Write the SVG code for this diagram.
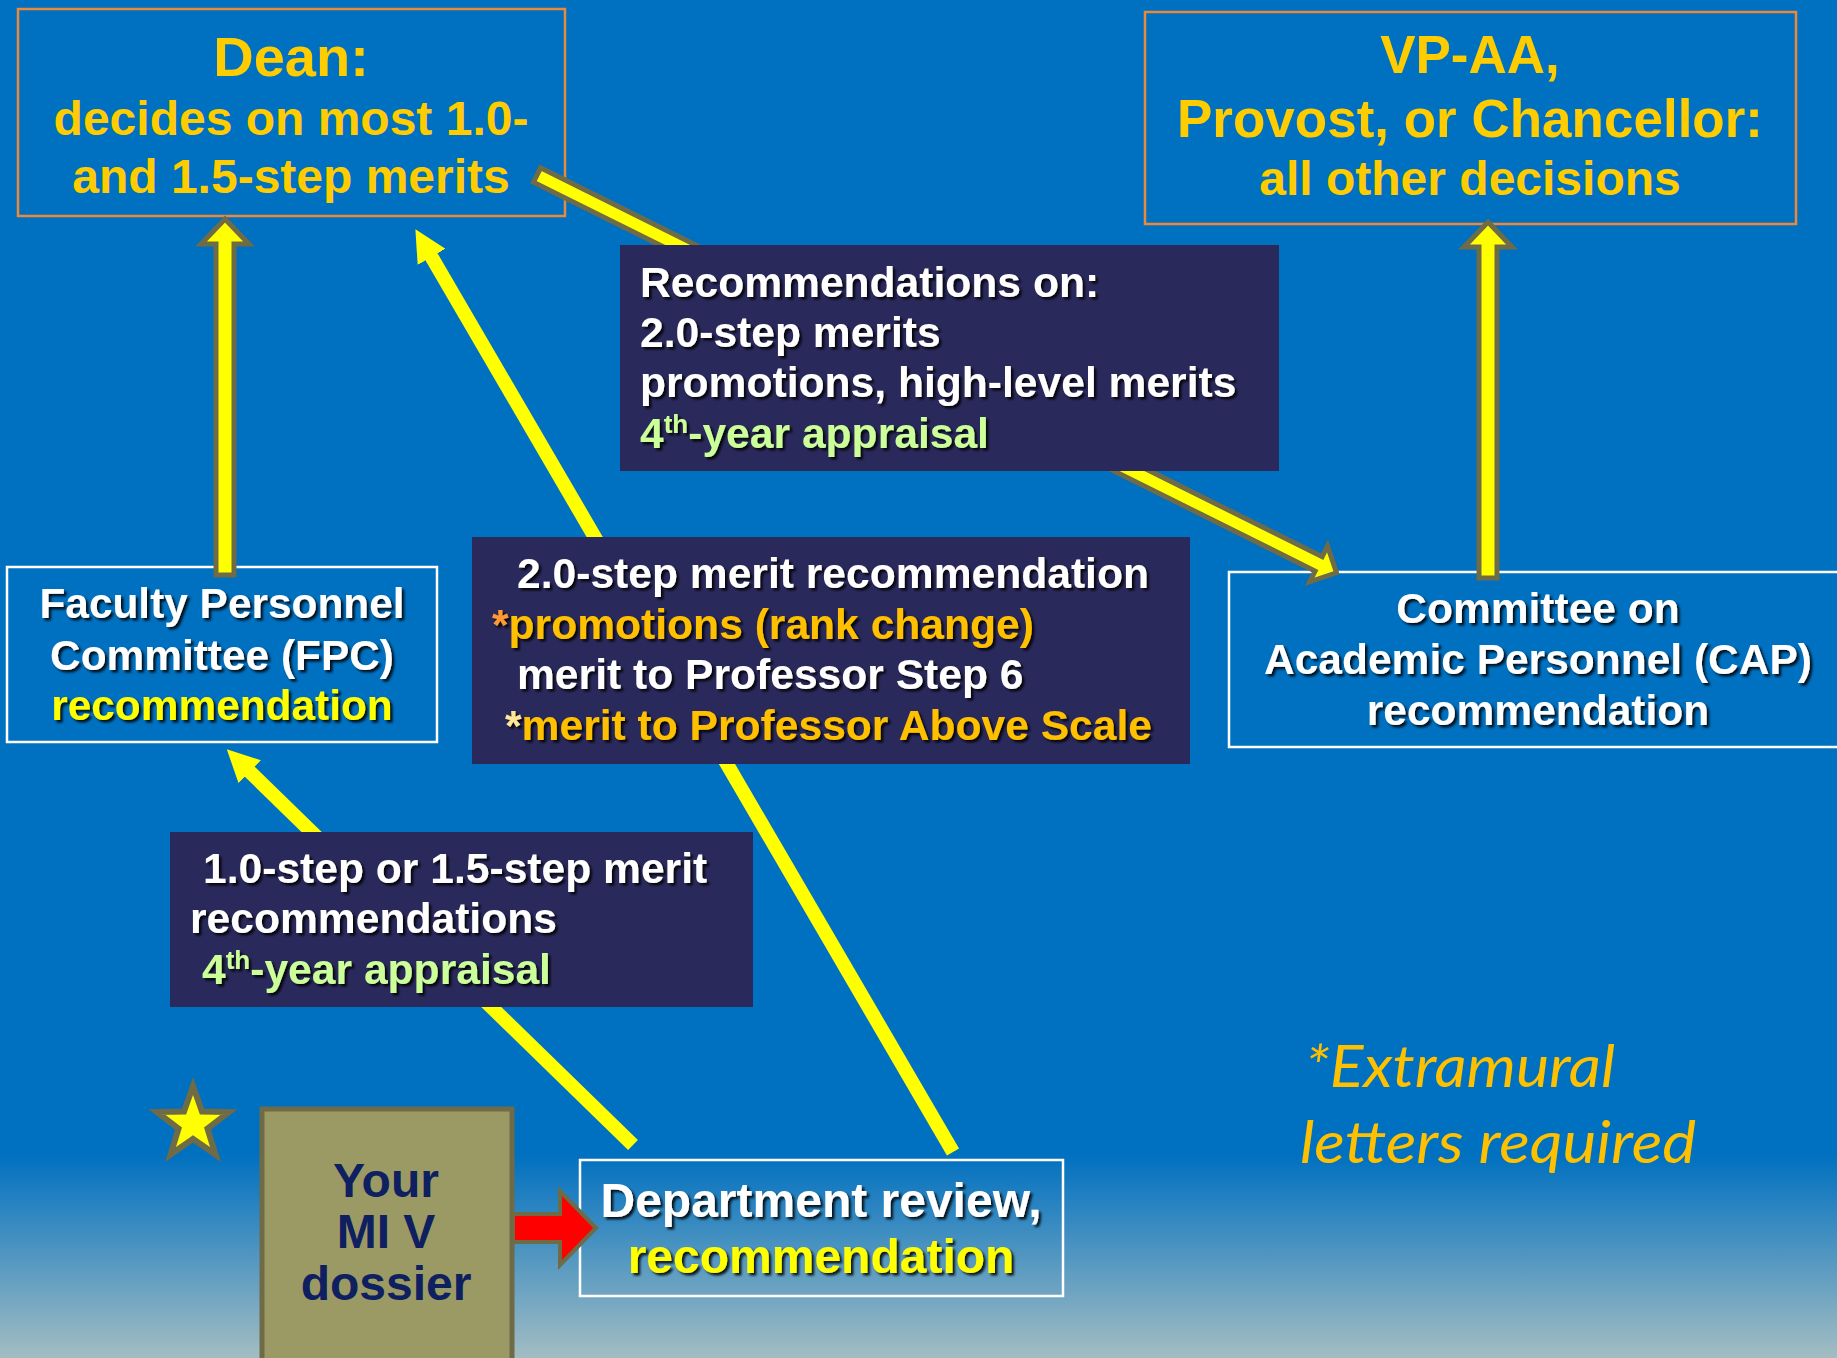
<svg xmlns="http://www.w3.org/2000/svg" width="1837" height="1358" viewBox="0 0 1837 1358">
<defs>
<linearGradient id="bg" x1="0" y1="0" x2="0" y2="1">
<stop offset="0" stop-color="#0070C0"/>
<stop offset="0.85" stop-color="#0070C0"/>
<stop offset="1" stop-color="#A3BDC2"/>
</linearGradient>
<filter id="sh" x="-5%" y="-30%" width="110%" height="160%">
<feDropShadow dx="2.5" dy="2.5" stdDeviation="1" flood-color="#000" flood-opacity="0.85"/>
</filter>
<marker id="ah" viewBox="0 0 32 32" markerWidth="32" markerHeight="32" refX="1" refY="16" orient="auto" markerUnits="userSpaceOnUse">
<path d="M0,0 L32,16 L0,32 Z" fill="#FFFF00"/>
</marker>
<style>
.t{font-family:"Liberation Sans",Arial,sans-serif;font-weight:bold}
.gold{fill:#FFCC00}
.wh{fill:#FFFFFF}
.yl{fill:#FFFF00}
.amb{fill:#FFC000}
.grn{fill:#CCFF99}
.obox{fill:none;stroke:#E8893B;stroke-width:2.5}
.wbox{fill:none;stroke:#FFFFFF;stroke-width:2.5}
.nbox{fill:#2A295C}
.blk{fill:#FFFF00;stroke:#6F6B47;stroke-width:5;stroke-linejoin:miter}
.thin{fill:none;stroke:#FFFF00;stroke-width:14;marker-end:url(#ah)}
</style>
</defs>
<rect x="0" y="0" width="1837" height="1358" fill="url(#bg)"/>

<g id="dean">
<rect class="obox" x="18" y="9" width="547" height="207"/>
<text class="t gold" x="291" y="76" font-size="56" text-anchor="middle">Dean:</text>
<text class="t gold" x="291" y="135" font-size="48" text-anchor="middle">decides on most 1.0-</text>
<text class="t gold" x="291" y="193" font-size="48" text-anchor="middle">and 1.5-step merits</text>
</g>

<g id="vpaa">
<rect class="obox" x="1145" y="12" width="651" height="212"/>
<text class="t gold" x="1470" y="73" font-size="53" text-anchor="middle">VP-AA,</text>
<text class="t gold" x="1470" y="137" font-size="53" text-anchor="middle">Provost, or Chancellor:</text>
<text class="t gold" x="1470" y="195" font-size="48" text-anchor="middle">all other decisions</text>
</g>

<g id="fpc">
<rect class="wbox" x="7" y="567" width="430" height="175"/>
<g filter="url(#sh)">
<text class="t wh" x="222" y="618" font-size="42.4" text-anchor="middle">Faculty Personnel</text>
<text class="t wh" x="222" y="670" font-size="42.4" text-anchor="middle">Committee (FPC)</text>
<text class="t yl" x="222" y="720" font-size="42.4" text-anchor="middle">recommendation</text>
</g>
</g>

<g id="cap">
<rect class="wbox" x="1229" y="572" width="620" height="175"/>
<g filter="url(#sh)">
<text class="t wh" x="1538" y="623" font-size="42.5" text-anchor="middle">Committee on</text>
<text class="t wh" x="1538" y="674" font-size="42.5" text-anchor="middle">Academic Personnel (CAP)</text>
<text class="t wh" x="1538" y="725" font-size="42.5" text-anchor="middle">recommendation</text>
</g>
</g>

<g id="dept">
<rect class="wbox" x="580" y="1160" width="483" height="136"/>
<g filter="url(#sh)">
<text class="t wh" x="821" y="1217" font-size="48" text-anchor="middle">Department review,</text>
<text class="t yl" x="821" y="1273" font-size="48" text-anchor="middle">recommendation</text>
</g>
</g>

<g id="miv">
<rect x="262" y="1109" width="250" height="260" fill="#9C9A64" stroke="#6F6B47" stroke-width="5"/>
<text class="t" x="386" y="1197" font-size="48" text-anchor="middle" fill="#0E2060">Your</text>
<text class="t" x="386" y="1248" font-size="48" text-anchor="middle" fill="#0E2060">MI V</text>
<text class="t" x="386" y="1300" font-size="48" text-anchor="middle" fill="#0E2060">dossier</text>
</g>

<g id="star">
<polygon points="193,1086 202,1111.5 229,1112 207.5,1128.6 215.5,1154.5 193,1139 170.5,1154.5 178.5,1128.6 157,1112 184,1111.5" fill="#FFFF00" stroke="#6F6B47" stroke-width="6" stroke-linejoin="miter"/>
</g>

<g id="connectors">
<path class="blk" d="M225,219 L249,244 L234,244 L234,575 L216,575 L216,244 L201,244 Z"/>
<path class="blk" d="M1488,222 L1512,247 L1497,247 L1497,578 L1479,578 L1479,247 L1464,247 Z"/>
<path class="blk" transform="translate(537,175) rotate(26.45)" d="M0,-8 L873,-8 L873,-20 L893,0 L873,20 L873,8 L0,8 Z"/>
<line class="thin" x1="633" y1="1145" x2="249" y2="771"/>
<line class="thin" x1="953" y1="1152" x2="431" y2="256"/>
<path d="M513,1214 L560,1214 L560,1191 L596,1228 L560,1265 L560,1242 L513,1242 Z" fill="#FF0000" stroke="#6F6B47" stroke-width="4"/>
</g>

<g id="label-cap">
<rect class="nbox" x="620" y="245" width="659" height="226"/>
<g filter="url(#sh)">
<text class="t wh" x="640" y="297" font-size="42.6">Recommendations on:</text>
<text class="t wh" x="640" y="347" font-size="42.6">2.0-step merits</text>
<text class="t wh" x="640" y="397" font-size="42.6">promotions, high-level merits</text>
<text class="t grn" x="640" y="448" font-size="42.6">4<tspan font-size="26" dy="-15">th</tspan><tspan dy="15">-year appraisal</tspan></text>
</g>
</g>

<g id="label-dean">
<rect class="nbox" x="472" y="537" width="718" height="227"/>
<g filter="url(#sh)">
<text class="t wh" x="517" y="588" font-size="42.6">2.0-step merit recommendation</text>
<text class="t amb" x="492" y="639" font-size="42.6"><tspan fill="#FF9933">*</tspan>promotions (rank change)</text>
<text class="t wh" x="517" y="689" font-size="42.6">merit to Professor Step 6</text>
<text class="t amb" x="505" y="740" font-size="42.6"><tspan fill="#FFE699">*</tspan>merit to Professor Above Scale</text>
</g>
</g>

<g id="label-fpc">
<rect class="nbox" x="170" y="832" width="583" height="175"/>
<g filter="url(#sh)">
<text class="t wh" x="203" y="883" font-size="42.6">1.0-step or 1.5-step merit</text>
<text class="t wh" x="190" y="933" font-size="42.6">recommendations</text>
<text class="t grn" x="202" y="984" font-size="42.6">4<tspan font-size="26" dy="-15">th</tspan><tspan dy="15">-year appraisal</tspan></text>
</g>
</g>

<g id="note">
<text x="1305" y="1087" font-family="Lato, 'Open Sans', sans-serif" font-style="italic" font-size="58" fill="#FFC000" textLength="310" lengthAdjust="spacingAndGlyphs">*Extramural</text>
<text x="1300" y="1163" font-family="Lato, 'Open Sans', sans-serif" font-style="italic" font-size="58" fill="#FFC000" textLength="396" lengthAdjust="spacingAndGlyphs">letters required</text>
</g>
</svg>
